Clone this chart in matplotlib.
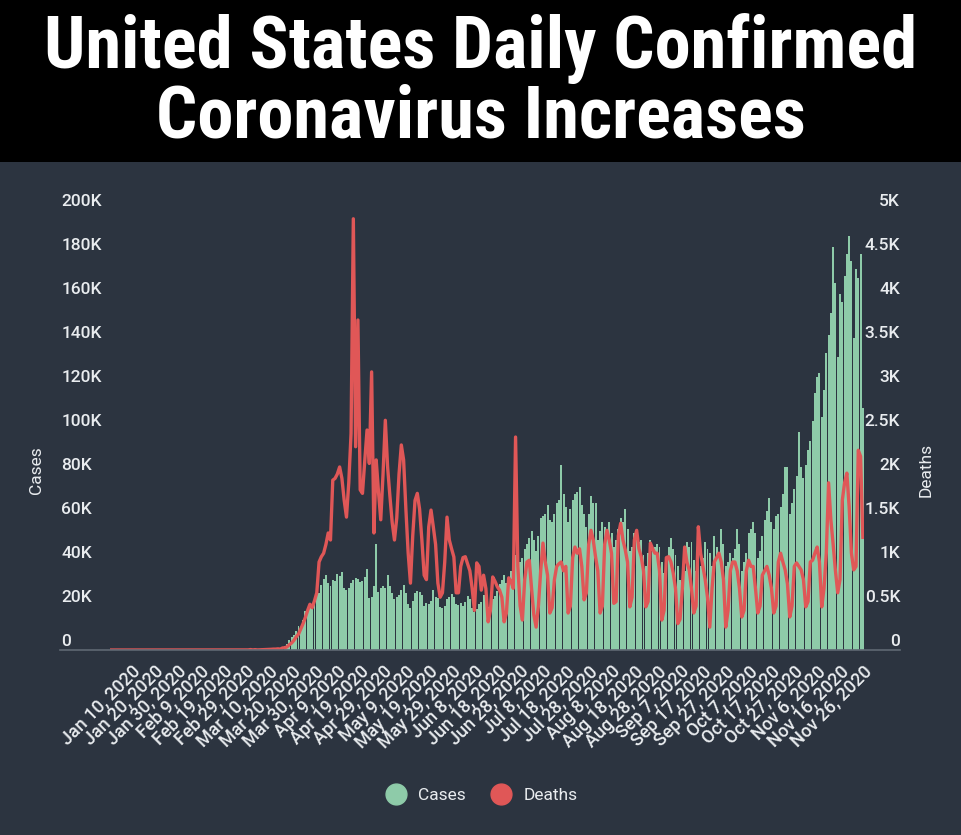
import matplotlib
matplotlib.use('Agg')
import matplotlib.pyplot as plt
import matplotlib.transforms as mtransforms
from matplotlib.lines import Line2D
from matplotlib.patches import Rectangle

# daily confirmed cases, Jan 1 - Nov 26 2020 (Aug 1 missing in source)
cases_jan = [0, 0, 0, 0, 0, 0, 0, 0, 0, 0, 0, 0, 0, 0, 0, 0, 0, 0, 0, 0,
             1, 0, 0, 1, 0, 3, 0, 0, 0, 0, 1]
cases_feb = [1, 0, 3, 0, 0, 0, 0, 0, 0, 1, 0, 0, 1, 0, 0, 0, 0, 0, 0, 0,
             2, 0, 0, 0, 2, 0, 1, 1, 8]
cases_mar = [6, 12, 20, 25, 70, 80, 110, 120, 180, 290,
             370, 500, 650, 750, 900, 1200, 1700, 2800, 4500, 5900,
             7000, 8500, 10700, 10600, 13500, 17800, 18900, 19400, 19800, 21600,
             26100]
cases_apr = [25800, 29700, 32200, 34000, 30500, 29300, 31900, 31400, 34500, 33700,
             35500, 28000, 27500, 28300, 30400, 31800, 32800, 32100, 30800, 31500,
             33000, 37000, 23500, 24000, 29000, 48000, 26500, 28000, 29000, 28000]
cases_may = [34000, 29000, 26000, 23000, 24000, 25000, 27500, 29500, 26000, 21000,
             19000, 22500, 26000, 27000, 26500, 25000, 20000, 21500, 21000, 22500,
             27500, 24000, 23500, 19500, 19000, 20000, 23000, 24000, 25500, 24000,
             21000]
cases_jun = [20500, 21500, 20000, 22000, 24500, 23000, 19000, 17500, 18500, 21000,
             22000, 25000, 25500, 19500, 19000, 23000, 24500, 27000, 30000, 32000,
             34000, 30500, 31000, 36000, 38500, 43000, 44000, 40000, 42000, 46000]
cases_jul = [48000, 51000, 54000, 50000, 45000, 52000, 60000, 61000, 62000, 66000,
             59000, 58000, 62000, 67000, 68000, 84000, 71000, 65000, 58000, 64000,
             68000, 71000, 72000, 74000, 66000, 62000, 56000, 62000, 70000, 67000,
             67000]
cases_aug = [50000, 54000, 58000, 56000, 55000, 58000, 53000, 47000, 50000, 55000,
             60000, 58000, 64000, 55000, 45000, 47000, 53000, 51000, 49000, 50000,
             43000, 38000, 44000, 50000, 46000, 47000, 48000, 47000, 40000, 35000]
cases_sep = [42000, 47000, 51000, 46000, 43000, 38000, 32000, 28000, 36000, 49000,
             47000, 49000, 41000, 36000, 50000, 38000, 42000, 49000, 46000, 44000,
             38000, 52000, 47000, 43000, 55000, 48000, 38000, 40000, 44000, 42000]
cases_oct = [46000, 55000, 48000, 36000, 40000, 44000, 53000, 55000, 58000, 53000,
             42000, 45000, 52000, 59000, 63000, 69000, 58000, 55000, 61000, 62000,
             65000, 71000, 83000, 83000, 62000, 67000, 73000, 79000, 99000, 83000,
             78000]
cases_nov = [84000, 91000, 95000, 104000, 117000, 124000, 126000, 106000, 118000, 135000,
             143000, 153000, 183000, 167000, 133000, 162000, 158000, 170000, 180000, 188000,
             177000, 142000, 173000, 169000, 180000, 110000]

# daily deaths, same days
deaths_jan = [0, 0, 0, 0, 0, 0, 0, 0, 0, 0, 0, 0, 0, 0, 0, 0, 0, 0, 0, 0,
              0, 0, 0, 0, 0, 0, 0, 0, 0, 0, 0]
deaths_feb = [0, 0, 0, 0, 0, 0, 0, 0, 0, 0, 0, 0, 0, 0, 0, 0, 0, 0, 0, 0,
              0, 0, 0, 0, 0, 0, 0, 0, 1]
deaths_mar = [1, 5, 1, 4, 1, 2, 3, 4, 4, 6, 8, 10, 10, 13, 10, 23, 25, 36, 60, 80,
              110, 150, 180, 240, 300, 370, 450, 520, 480, 560, 650]
deaths_apr = [1000, 1060, 1100, 1200, 1330, 1250, 1930, 1950, 2000, 2080,
              1950, 1700, 1510, 1900, 2460, 4900, 2310, 3750, 1820, 1780,
              2150, 2500, 2120, 3160, 1330, 2160, 1800, 1480, 2000, 2610]
deaths_may = [2080, 1750, 1450, 1250, 1500, 2000, 2330, 2160, 1600, 1100,
              760, 1300, 1700, 1780, 1600, 1250, 850, 800, 1400, 1590,
              1400, 1200, 760, 600, 650, 1000, 1510, 1250, 1150, 1057, 650]
deaths_jun = [650, 950, 1050, 1060, 980, 900, 700, 450, 990, 950,
              680, 850, 700, 320, 450, 830, 780, 720, 680, 600,
              320, 420, 820, 780, 700, 2420, 950, 500, 340, 800]
deaths_jul = [1000, 1020, 700, 400, 260, 500, 900, 1215, 1000, 850,
              420, 480, 800, 950, 980, 1000, 900, 950, 420, 500,
              1050, 1170, 1100, 1150, 950, 570, 650, 1200, 1360, 1250, 1060]
deaths_aug = [900, 420, 500, 1200, 1360, 1250, 1100, 530, 550, 1300,
              1440, 1250, 1140, 1000, 490, 600, 1250, 1360, 1150, 1060,
              900, 490, 550, 1215, 1150, 1100, 1100, 900, 340, 450]
deaths_sep = [1050, 1060, 1000, 875, 700, 300, 350, 700, 1170, 1000,
              910, 700, 420, 500, 1400, 1100, 950, 800, 600, 260,
              700, 1000, 1050, 1100, 1000, 800, 260, 450, 900, 1000]
deaths_oct = [1000, 900, 700, 375, 450, 900, 1020, 950, 950, 700,
              420, 500, 850, 900, 950, 850, 700, 420, 500, 1000,
              1100, 1000, 910, 750, 375, 500, 950, 990, 950, 910, 800]
deaths_nov = [490, 550, 1000, 1020, 1100, 1170, 1000, 490, 700, 1100,
              1900, 1480, 1200, 900, 650, 800, 1700, 1900, 2010, 1625,
              1100, 910, 950, 2270, 2200, 1280]

tick_labels = ['Jan 10, 2020', 'Jan 20, 2020', 'Jan 30, 2020', 'Feb 9, 2020',
               'Feb 19, 2020', 'Feb 29, 2020', 'Mar 10, 2020', 'Mar 20, 2020',
               'Mar 30, 2020', 'Apr 9, 2020', 'Apr 19, 2020', 'Apr 29, 2020',
               'May 9, 2020', 'May 19, 2020', 'May 29, 2020', 'Jun 8, 2020',
               'Jun 18, 2020', 'Jun 28, 2020', 'Jul 8, 2020', 'Jul 18, 2020',
               'Jul 28, 2020', 'Aug 8, 2020', 'Aug 18, 2020', 'Aug 28, 2020',
               'Sep 7, 2020', 'Sep 17, 2020', 'Sep 27, 2020', 'Oct 7, 2020',
               'Oct 17, 2020', 'Oct 27, 2020', 'Nov 6, 2020', 'Nov 16, 2020',
               'Nov 26, 2020']
cases_ticks = [0, 20000, 40000, 60000, 80000, 100000, 120000, 140000, 160000, 180000, 200000]
cases_tick_labels = ['0', '20K', '40K', '60K', '80K', '100K', '120K', '140K', '160K', '180K', '200K']
deaths_ticks = [0, 500, 1000, 1500, 2000, 2500, 3000, 3500, 4000, 4500, 5000]
deaths_tick_labels = ['0', '0.5K', '1K', '1.5K', '2K', '2.5K', '3K', '3.5K', '4K', '4.5K', '5K']

BG = '#2c3440'
GREEN = '#8ecba9'
RED = '#e05757'
TXT = '#e9ecef'
W, H = 962, 835


def shift_labels(labels, fig, dy_px):
    off = mtransforms.ScaledTranslation(0, dy_px / fig.dpi, fig.dpi_scale_trans)
    for lab in labels:
        lab.set_transform(lab.get_transform() + off)


def main():
    plt.rcParams['font.family'] = ['Roboto', 'DejaVu Sans']

    cases = (cases_jan + cases_feb + cases_mar + cases_apr + cases_may + cases_jun
             + cases_jul + cases_aug + cases_sep + cases_oct + cases_nov)
    deaths = (deaths_jan + deaths_feb + deaths_mar + deaths_apr + deaths_may + deaths_jun
              + deaths_jul + deaths_aug + deaths_sep + deaths_oct + deaths_nov)
    idx = list(range(len(cases)))

    fig = plt.figure(figsize=(W / 100, H / 100), dpi=100, facecolor=BG)

    # black title band
    fig.add_artist(Rectangle((0, 1 - 162 / H), 1, 162 / H, transform=fig.transFigure,
                             facecolor='black', edgecolor='none', zorder=0))

    ax = fig.add_axes([110 / W, 185 / H, 754 / W, 440 / H])
    ax.set_facecolor('none')
    ax.bar(idx, cases, width=0.86, color=GREEN, zorder=2)
    ax.set_xlim(-0.5, len(cases) - 0.5)
    ax.set_ylim(0, 200000)

    ax2 = ax.twinx()
    ax2.plot(idx, deaths, color=RED, lw=2.4, solid_joinstyle='round', zorder=3)
    ax2.set_ylim(0, 5000)

    for a in (ax, ax2):
        for s in a.spines.values():
            s.set_visible(False)

    ax.set_xticks(range(9, len(cases), 10))
    ax.set_xticklabels(tick_labels, rotation=45, ha='right', rotation_mode='anchor',
                       fontsize=13, fontweight='medium', color=TXT)
    ax.tick_params(axis='x', length=0, pad=9)

    ax.set_yticks(cases_ticks)
    ax.set_yticklabels(cases_tick_labels, ha='left', fontsize=12.5, fontweight='medium',
                       color=TXT)
    ax.tick_params(axis='y', length=0, pad=35)
    shift_labels(ax.get_yticklabels(), fig, 10)

    ax2.set_yticks(deaths_ticks)
    ax2.set_yticklabels(deaths_tick_labels, ha='right', fontsize=12.5, fontweight='medium',
                        color=TXT)
    ax2.tick_params(axis='y', length=0, pad=26)
    shift_labels(ax2.get_yticklabels(), fig, 10)

    # baseline running under both tick label columns
    fig.add_artist(Line2D([60 / W, 900 / W], [185 / H, 185 / H], transform=fig.transFigure,
                          color='#5f6873', lw=1.2, zorder=1))

    fig.text(36 / W, 1 - 470 / H, 'Cases', rotation=90, ha='center', va='center',
             fontsize=12.5, color=TXT)
    fig.text(926 / W, 1 - 470 / H, 'Deaths', rotation=90, ha='center', va='center',
             fontsize=12.5, color=TXT)

    handles = [Line2D([], [], marker='o', ls='none', markersize=15, color=GREEN),
               Line2D([], [], marker='o', ls='none', markersize=15, color=RED)]
    fig.legend(handles, ['Cases', 'Deaths'], loc='center', bbox_to_anchor=(478 / W, 40 / H),
               ncol=2, frameon=False, fontsize=12.5, labelcolor=TXT, handletextpad=0.3,
               columnspacing=1.0)

    # title, fit to the width of the first line
    fam = ['Roboto Condensed', 'Open Sans Condensed', 'DejaVu Sans']
    t1 = fig.text(0.5, 1 - 68 / H, 'United States Daily Confirmed', ha='center',
                  va='baseline', color='white', fontsize=48, fontweight='bold',
                  fontstretch='condensed', family=fam)
    t2 = fig.text(0.5, 1 - 137 / H, 'Coronavirus Increases', ha='center',
                  va='baseline', color='white', fontsize=48, fontweight='bold',
                  fontstretch='condensed', family=fam)
    r = fig.canvas.get_renderer()
    w1 = t1.get_window_extent(r).width
    size = min(48 * 871 / w1, 56)
    t1.set_fontsize(size)
    t2.set_fontsize(size)

    fig.savefig('out.png', dpi=100, facecolor=BG)


if __name__ == '__main__':
    main()
